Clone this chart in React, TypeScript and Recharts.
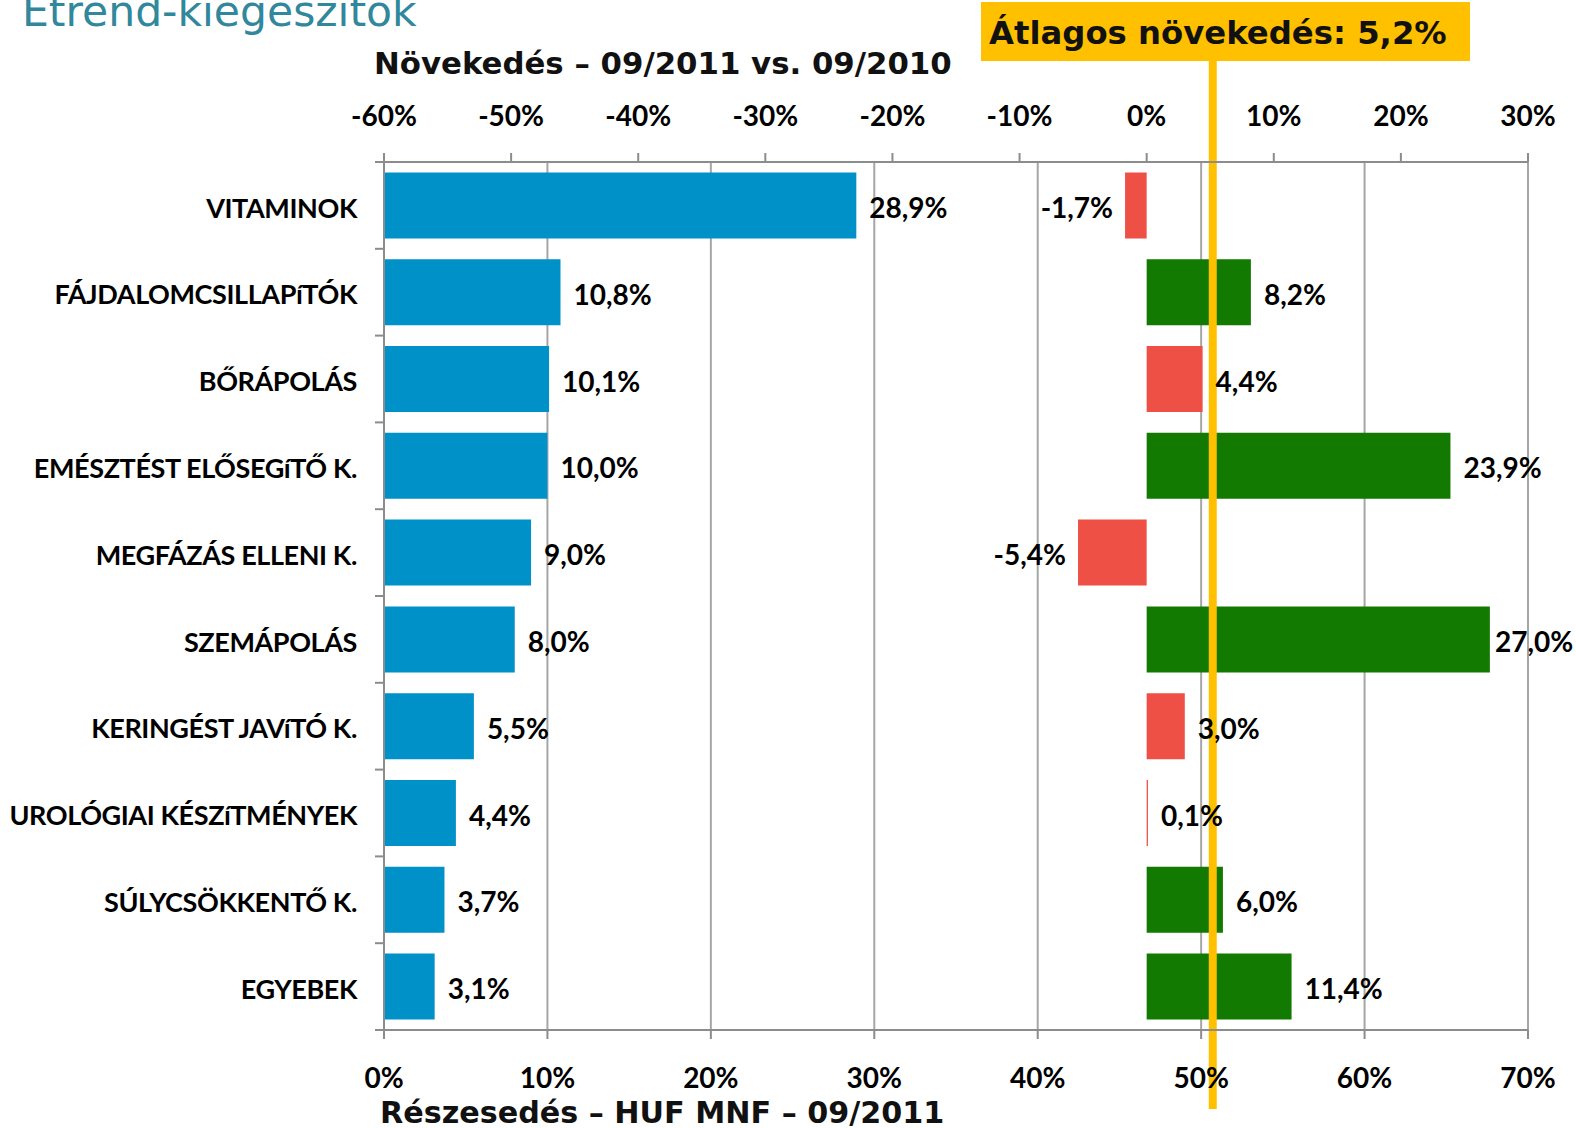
import React from 'react';
import { BarChart, Bar, XAxis, YAxis, CartesianGrid, Cell, LabelList, ReferenceLine } from 'recharts';

const categories = [
  'VITAMINOK',
  'FÁJDALOMCSILLAPíTÓK',
  'BŐRÁPOLÁS',
  'EMÉSZTÉST ELŐSEGíTŐ K.',
  'MEGFÁZÁS ELLENI K.',
  'SZEMÁPOLÁS',
  'KERINGÉST JAVíTÓ K.',
  'UROLÓGIAI KÉSZíTMÉNYEK',
  'SÚLYCSÖKKENTŐ K.',
  'EGYEBEK',
];
const shareValues = [28.9, 10.8, 10.1, 10.0, 9.0, 8.0, 5.5, 4.4, 3.7, 3.1];
const growthValues = [-1.7, 8.2, 4.4, 23.9, -5.4, 27.0, 3.0, 0.1, 6.0, 11.4];
const averageGrowth = 5.2;
const shareTicks = [0, 10, 20, 30, 40, 50, 60, 70];
const growthTicks = [-60, -50, -40, -30, -20, -10, 0, 10, 20, 30];

const pageTitle = 'Étrend-kiegészítők';
const growthTitle = 'Növekedés – 09/2011 vs. 09/2010';
const shareTitle = 'Részesedés – HUF MNF – 09/2011';
const averageLabel = 'Átlagos növekedés: 5,2%';

const data = categories.map((name, i) => ({ name, share: shareValues[i], growth: growthValues[i] }));

const BLUE = '#0091C9';
const RED = '#EE5046';
const GREEN = '#127A00';
const YELLOW = '#FFC000';
const GRID = '#A6A6A6';
const AXIS = '#8C8C8C';
const LABEL_FONT = 'Lato, "Open Sans", sans-serif';
const TITLE_FONT = '"DejaVu Sans", Verdana, sans-serif';

const fmt = (v: number) => v.toFixed(1).replace('.', ',') + '%';
const pct = (v: number) => `${v}%`;

const tickStyle = { fontFamily: LABEL_FONT, fontWeight: 700, fontSize: 28, fill: '#000' };
const categoryStyle = { fontFamily: LABEL_FONT, fontWeight: 700, fontSize: 27, fill: '#000', letterSpacing: '-0.4px' };

const CategoryTick = (props: any) => {
  const { x, y, payload } = props;
  const half = payload && typeof payload.offset === 'number' && payload.offset > 0 ? payload.offset : 43.35;
  const axisX = x + 27;
  const isLast = payload && payload.value === categories[categories.length - 1];
  return (
    <g>
      <line x1={axisX - 9} x2={axisX} y1={y - half} y2={y - half} stroke={AXIS} strokeWidth={2} />
      {isLast && <line x1={axisX - 9} x2={axisX} y1={y + half} y2={y + half} stroke={AXIS} strokeWidth={2} />}
      <text x={x} y={y + 2.5} dy="0.36em" textAnchor="end" style={categoryStyle}>
        {payload.value}
      </text>
    </g>
  );
};

// labels keep inside the chart's right edge, as the original does
const LABEL_MAX_X = 1495;

const ValueLabel = (props: any) => {
  const { x, y, width, height, value } = props;
  const left = Math.min(x, x + width);
  const right = Math.max(x, x + width);
  const neg = value < 0;
  return (
    <text
      x={neg ? left - 12 : Math.min(right + 13, LABEL_MAX_X)}
      y={y + height / 2 + 2.5}
      dy="0.36em"
      textAnchor={neg ? 'end' : 'start'}
      style={tickStyle}
    >
      {fmt(value)}
    </text>
  );
};

const YellowLine = (props: any) => {
  const { x1, y1, y2 } = props;
  const top = Math.min(y1, y2);
  const bottom = Math.max(y1, y2);
  return <line x1={x1} x2={x1} y1={top - 101} y2={bottom + 79} stroke={YELLOW} strokeWidth={8} />;
};

export default function App() {
  return (
    <div style={{ position: 'absolute', left: 0, top: 0, width: 1576, height: 1128, background: '#fff', overflow: 'hidden' }}>
      <BarChart
        width={1576}
        height={1128}
        data={data}
        layout="vertical"
        margin={{ top: 102, right: 48, bottom: 38, left: 0 }}
        barCategoryGap="12%"
      >
        <CartesianGrid xAxisId="bottom" yAxisId="a" horizontal={false} stroke={GRID} strokeWidth={2} />
        <XAxis
          xAxisId="bottom"
          type="number"
          orientation="bottom"
          domain={[0, 70]}
          ticks={shareTicks}
          tickFormatter={pct}
          height={60}
          tick={tickStyle}
          tickSize={9}
          tickMargin={29}
          stroke={AXIS}
          strokeWidth={2}
          allowDataOverflow
        />
        <XAxis
          xAxisId="top"
          type="number"
          orientation="top"
          domain={[-60, 30]}
          ticks={growthTicks}
          tickFormatter={pct}
          height={60}
          tick={tickStyle}
          tickSize={9}
          tickMargin={27}
          stroke={AXIS}
          strokeWidth={2}
          allowDataOverflow
        />
        <YAxis
          yAxisId="a"
          type="category"
          dataKey="name"
          width={384}
          tick={<CategoryTick />}
          tickLine={false}
          tickSize={9}
          tickMargin={18}
          interval={0}
          stroke={AXIS}
          strokeWidth={2}
        />
        <YAxis yAxisId="b" type="category" dataKey="name" hide />
        <Bar dataKey="share" xAxisId="bottom" yAxisId="a" fill={BLUE} isAnimationActive={false}>
          <LabelList dataKey="share" content={<ValueLabel />} />
        </Bar>
        <Bar dataKey="growth" xAxisId="top" yAxisId="b" isAnimationActive={false}>
          {data.map((d, i) => (
            <Cell key={i} fill={d.growth >= averageGrowth ? GREEN : RED} />
          ))}
          <LabelList dataKey="growth" content={<ValueLabel />} />
        </Bar>
        <ReferenceLine xAxisId="top" yAxisId="a" x={averageGrowth} shape={<YellowLine />} ifOverflow="visible" />
      </BarChart>
      <svg
        width={1576}
        height={1128}
        style={{ position: 'absolute', left: 0, top: 0, pointerEvents: 'none' }}
      >
        <text x={22} y={26} style={{ fontFamily: TITLE_FONT, fontSize: 42.5, fill: '#31879B' }}>
          {pageTitle}
        </text>
        <text x={374} y={74} style={{ fontFamily: TITLE_FONT, fontWeight: 700, fontSize: 30.8, fill: '#111' }}>
          {growthTitle}
        </text>
        <text x={380} y={1123} style={{ fontFamily: TITLE_FONT, fontWeight: 700, fontSize: 30.2, fill: '#111' }}>
          {shareTitle}
        </text>
        <rect x={981} y={2} width={489} height={59} fill={YELLOW} />
        <text x={989} y={44} style={{ fontFamily: TITLE_FONT, fontWeight: 700, fontSize: 32.3, fill: '#111' }}>
          {averageLabel}
        </text>
      </svg>
    </div>
  );
}
